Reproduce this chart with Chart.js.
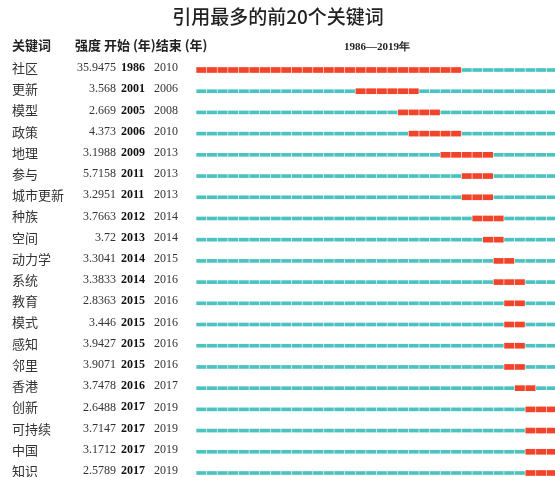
<!DOCTYPE html>
<html>
<head>
<meta charset="utf-8">
<script src="https://cdn.jsdelivr.net/npm/chart.js@4"></script>
<style>
html,body{margin:0;padding:0;background:#fff;overflow:hidden;width:555px;height:477px;}
#wrap{position:absolute;left:0;top:0;width:557px;height:477px;}
</style>
</head>
<body>
<div id="wrap"><canvas id="c" width="557" height="477"></canvas></div>
<script>
const title = '引用最多的前20个关键词';
const headerKeyword = '关键词';
const headerCols = '强度 开始 (年)结束 (年)';
const rangeLabel = '1986—2019年';
const keywords = ['社区','更新','模型','政策','地理','参与','城市更新','种族','空间','动力学','系统','教育','模式','感知','邻里','香港','创新','可持续','中国','知识'];
const strengths = ['35.9475','3.568','2.669','4.373','3.1988','5.7158','3.2951','3.7663','3.72','3.3041','3.3833','2.8363','3.446','3.9427','3.9071','3.7478','2.6488','3.7147','3.1712','2.5789'];
const begins = [1986,2001,2005,2006,2009,2011,2011,2012,2013,2014,2014,2015,2015,2015,2015,2016,2017,2017,2017,2017];
const ends = [2010,2006,2008,2010,2013,2013,2013,2014,2014,2015,2016,2016,2016,2016,2016,2017,2019,2019,2019,2019];
const firstYear = 1986;
const lastYear = 2019;

const TEAL = '#4cc3c0';
const RED = '#f2442a';

const years = [];
for (let y = firstYear; y <= lastYear; y++) years.push(y);

const datasets = [];
years.forEach(yr => {
  datasets.push({
    data: keywords.map((k, i) => (yr >= begins[i] && yr <= ends[i]) ? null : [yr + 0.06, yr + 0.94]),
    backgroundColor: TEAL, barThickness: 3, grouped: false, clip: false, borderWidth: 0
  });
  datasets.push({
    data: keywords.map((k, i) => (yr >= begins[i] && yr <= ends[i]) ? [yr + 0.06, yr + 0.94] : null),
    backgroundColor: RED, barThickness: 5, grouped: false, clip: false, borderWidth: 0
  });
});

const textPlugin = {
  id: 'tableText',
  afterDraw(chart) {
    const ctx = chart.ctx;
    const ys = chart.scales.y;
    ctx.save();
    ctx.fillStyle = '#222';
    ctx.textBaseline = 'middle';
    ctx.textAlign = 'center';
    ctx.font = '500 19px "Noto Sans CJK SC"';
    ctx.fillText(title, 278, 17);
    ctx.textAlign = 'left';
    ctx.font = 'bold 13px "Noto Sans CJK SC"';
    ctx.fillText(headerKeyword, 12, 45);
    ctx.fillText(headerCols, 75, 45);
    ctx.textAlign = 'center';
    ctx.font = 'bold 11px "Liberation Serif"';
    ctx.fillText(rangeLabel, 377, 47);
    keywords.forEach((k, i) => {
      const y = ys.getPixelForValue(i) - 2;
      ctx.textAlign = 'left';
      ctx.fillStyle = '#333';
      ctx.font = '13px "Noto Sans CJK SC"';
      ctx.fillText(k, 12, y);
      ctx.font = '12px "Liberation Serif"';
      ctx.textAlign = 'right';
      ctx.fillText(strengths[i], 116, y);
      ctx.textAlign = 'left';
      ctx.fillStyle = '#111';
      ctx.font = 'bold 12px "Liberation Serif"';
      ctx.fillText(String(begins[i]), 121, y);
      ctx.fillStyle = '#333';
      ctx.font = '12px "Liberation Serif"';
      ctx.fillText(String(ends[i]), 154, y);
    });
    ctx.restore();
  }
};

new Chart(document.getElementById('c'), {
  type: 'bar',
  data: { labels: keywords, datasets },
  options: {
    indexAxis: 'y',
    responsive: false,
    animation: false,
    devicePixelRatio: 1,
    layout: { padding: { left: 196, right: 0, top: 70, bottom: 4 } },
    plugins: { legend: { display: false }, tooltip: { enabled: false }, title: { display: false } },
    scales: {
      x: { type: 'linear', min: firstYear, max: lastYear + 1, display: false },
      y: { type: 'category', offset: false, display: false, grid: { display: false } }
    }
  },
  plugins: [textPlugin]
});
</script>
</body>
</html>
